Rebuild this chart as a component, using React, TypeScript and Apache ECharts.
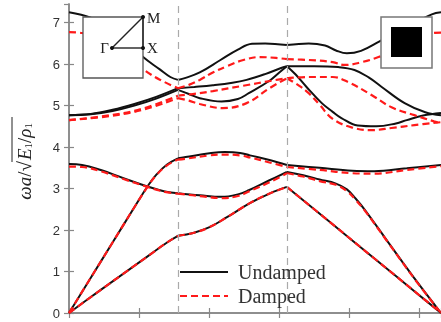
import React, { useEffect, useRef } from "react";
import * as echarts from "echarts";

// Path: Γ (0) → X (1) → M (2) → Γ (1 + 1 + √2)
const K_END = 3.414;
const Y_MAX = 7.45;
const X_TICK_STEP = 0.642;
const Y_TICK_STEP = 1;
const symmetryPoints = [1, 2];
const legendNames = ["Undamped", "Damped"];

// ---- Undamped (black, solid) bands: [k, ωa/√(E1/ρ1)] ----
const undamped1 = [
  [0, 0], [0.25, 0.48], [0.5, 0.95], [0.75, 1.42], [0.9, 1.7], [1, 1.86],
  [1.14, 1.93], [1.29, 2.07], [1.45, 2.31], [1.66, 2.65], [1.84, 2.88], [2, 3.04],
  [2.4, 2.18], [2.8, 1.32], [3.2, 0.46], [3.414, 0],
];
const undamped2 = [
  [0, 0], [0.2, 0.85], [0.4, 1.7], [0.6, 2.55], [0.72, 3.05], [0.8, 3.33], [0.9, 3.58], [1, 3.73],
  [1.07, 3.76], [1.29, 3.85], [1.43, 3.88], [1.57, 3.86], [1.66, 3.8], [1.84, 3.69], [2, 3.57],
  [2.3, 3.5], [2.6, 3.43], [2.8, 3.42], [3.1, 3.49], [3.414, 3.57],
];
const undamped3 = [
  [0, 3.59], [0.12, 3.57], [0.3, 3.44], [0.5, 3.25], [0.72, 3.05], [0.88, 2.93], [1, 2.89],
  [1.2, 2.84], [1.4, 2.8], [1.55, 2.86], [1.65, 2.96], [1.84, 3.2], [2, 3.4],
  [2.15, 3.32], [2.3, 3.22], [2.45, 3.12], [2.55, 2.98], [2.63, 2.76], [2.72, 2.47], [2.92, 1.74], [3.2, 0.73], [3.414, 0],
];
const undamped4 = [
  [0, 4.77], [0.2, 4.79], [0.4, 4.87], [0.6, 5.0], [0.8, 5.17], [1, 5.38],
  [1.1, 5.28], [1.2, 5.18], [1.4, 5.1], [1.55, 5.16], [1.65, 5.3], [1.84, 5.6], [1.93, 5.8], [2, 5.95],
  [2.08, 5.75], [2.18, 5.45], [2.32, 5.06], [2.42, 4.85], [2.5, 4.7], [2.65, 4.52], [2.82, 4.5], [3, 4.57], [3.1, 4.65], [3.25, 4.76], [3.414, 4.82],
];
const undamped5 = [
  [0, 4.77], [0.2, 4.8], [0.4, 4.9], [0.6, 5.04], [0.8, 5.21], [1, 5.42],
  [1.15, 5.45], [1.32, 5.49], [1.5, 5.55], [1.63, 5.62], [1.8, 5.76], [1.94, 5.9], [2, 5.95],
  [2.25, 5.95], [2.47, 5.93], [2.62, 5.86], [2.75, 5.68], [2.87, 5.45], [3.08, 5.06], [3.27, 4.84], [3.414, 4.77],
];
const undamped6 = [
  [0, 7.25], [0.2, 7.12], [0.4, 6.85], [0.55, 6.5], [0.68, 6.17], [0.83, 5.88], [0.93, 5.69], [1, 5.62],
  [1.07, 5.67], [1.2, 5.8], [1.39, 6.1], [1.55, 6.35], [1.68, 6.49], [1.8, 6.5], [2, 6.46],
  [2.2, 6.5], [2.35, 6.45], [2.45, 6.33], [2.55, 6.26], [2.68, 6.32], [2.85, 6.55], [3.1, 6.9], [3.33, 7.2], [3.414, 7.25],
];

// ---- Damped (red, dashed) bands ----
const damped1 = [
  [0, 0], [0.25, 0.48], [0.5, 0.95], [0.75, 1.42], [0.9, 1.7], [1, 1.86],
  [1.14, 1.93], [1.29, 2.07], [1.45, 2.31], [1.66, 2.65], [1.84, 2.88], [2, 3.04],
  [2.4, 2.18], [2.8, 1.32], [3.2, 0.46], [3.414, 0],
];
const damped2 = [
  [0, 0], [0.2, 0.85], [0.4, 1.7], [0.6, 2.55], [0.72, 3.04], [0.8, 3.32], [0.9, 3.56], [1, 3.7],
  [1.07, 3.72], [1.29, 3.8], [1.43, 3.82], [1.57, 3.8], [1.66, 3.75], [1.84, 3.63], [2, 3.52],
  [2.3, 3.45], [2.6, 3.37], [2.8, 3.36], [3.1, 3.45], [3.414, 3.54],
];
const damped3 = [
  [0, 3.53], [0.12, 3.52], [0.3, 3.41], [0.5, 3.23], [0.72, 3.04], [0.88, 2.92], [1, 2.88],
  [1.2, 2.82], [1.4, 2.77], [1.55, 2.82], [1.65, 2.93], [1.84, 3.15], [2, 3.37],
  [2.15, 3.29], [2.3, 3.18], [2.45, 3.09], [2.55, 2.94], [2.63, 2.73], [2.72, 2.45], [2.92, 1.73], [3.2, 0.72], [3.414, 0],
];
const damped4 = [
  [0, 4.65], [0.38, 4.75], [0.68, 4.9], [1, 5.18],
  [1.1, 5.12], [1.2, 5.04], [1.41, 4.94], [1.63, 5.06], [1.84, 5.42], [2, 5.66],
  [2.1, 5.5], [2.2, 5.3], [2.3, 5.02], [2.42, 4.68], [2.6, 4.47], [2.78, 4.41], [2.96, 4.46], [3.17, 4.53], [3.414, 4.6],
];
const damped5 = [
  [0, 4.65], [0.38, 4.77], [0.68, 4.93], [1, 5.24],
  [1.2, 5.3], [1.32, 5.35], [1.6, 5.48], [1.88, 5.61], [2, 5.66],
  [2.2, 5.69], [2.42, 5.69], [2.56, 5.57], [2.78, 5.25], [2.96, 4.96], [3.17, 4.77], [3.35, 4.62], [3.414, 4.58],
];
const damped6 = [
  [0, 6.77], [0.12, 6.75], [0.3, 6.58], [0.5, 6.25], [0.7, 5.84], [0.83, 5.63], [1, 5.42],
  [1.1, 5.5], [1.2, 5.62], [1.32, 5.8], [1.45, 5.95], [1.6, 6.1], [1.75, 6.17], [1.9, 6.15], [2, 6.12],
  [2.2, 6.1], [2.42, 6.05], [2.53, 5.98], [2.69, 6.05], [2.84, 6.17], [3.1, 6.45], [3.34, 6.75], [3.414, 6.76],
];

const undampedBands = [undamped1, undamped2, undamped3, undamped4, undamped5, undamped6];
const dampedBands = [damped1, damped2, damped3, damped4, damped5, damped6];

const BLACK = "#111";
const RED = "#ff1a1a";
const RED_DASH = [7, 4];

function splitSegments(points: number[][]) {
  const segs: number[][][] = [[], [], []];
  for (const p of points) {
    if (p[0] <= 1) segs[0].push(p);
    if (p[0] >= 1 && p[0] <= 2) segs[1].push(p);
    if (p[0] >= 2) segs[2].push(p);
  }
  return segs;
}

export default function App() {
  const ref = useRef<HTMLDivElement>(null);
  useEffect(() => {
    if (!ref.current) return;
    const chart = echarts.init(ref.current, null, { renderer: "svg" });

    const series: any[] = [];
    undampedBands.forEach((band) => {
      splitSegments(band).forEach((seg) => {
        series.push({
          type: "line",
          name: legendNames[0],
          data: seg,
          smooth: 0.4,
          symbol: "none",
          showSymbol: false,
          z: 3,
          lineStyle: { color: BLACK, width: 2 },
          itemStyle: { color: BLACK },
        });
      });
    });
    dampedBands.forEach((band) => {
      splitSegments(band).forEach((seg) => {
        series.push({
          type: "line",
          name: legendNames[1],
          data: seg,
          smooth: 0.4,
          symbol: "none",
          showSymbol: false,
          z: 4,
          lineStyle: { color: RED, width: 2.2, type: RED_DASH },
          itemStyle: { color: RED },
        });
      });
    });
    series[0].markLine = {
      silent: true,
      symbol: ["none", "none"],
      label: { show: false },
      lineStyle: { color: "#aaa", type: [7, 5], width: 1.2 },
      data: symmetryPoints.map((k) => ({ xAxis: k })),
    };

    const axisLine = { show: true, lineStyle: { color: "#888", width: 1.5 } };
    const axisTick = { show: true, inside: true, length: 5, lineStyle: { color: "#888", width: 1.2 } };
    const serif = '"Liberation Serif", "Times New Roman", serif';
    const Z = 100;

    chart.setOption({
      animation: false,
      grid: { left: 69, right: 0, top: 4, bottom: 9, containLabel: false },
      xAxis: [
        {
          type: "value", min: 0, max: K_END, interval: X_TICK_STEP, position: "bottom",
          axisLine, axisTick, axisLabel: { show: false }, splitLine: { show: false },
        },
        {
          type: "value", min: 0, max: K_END, interval: X_TICK_STEP, position: "top",
          axisLine, axisTick, axisLabel: { show: false }, splitLine: { show: false },
        },
      ],
      yAxis: [
        {
          type: "value", min: 0, max: Y_MAX, interval: Y_TICK_STEP, position: "left",
          axisLine, axisTick, splitLine: { show: false },
          axisLabel: {
            show: true, margin: 9, showMaxLabel: false, color: "#333",
            fontFamily: '"Liberation Sans", Arial, sans-serif', fontSize: 13,
          },
        },
        {
          type: "value", min: 0, max: Y_MAX, interval: Y_TICK_STEP, position: "right",
          axisLine, axisTick, axisLabel: { show: false }, splitLine: { show: false },
        },
      ],
      series,
      graphic: [
        // y-axis title
        {
          type: "group", x: 24, y: 157, rotation: Math.PI / 2, z: Z,
          children: [
            {
              type: "text", x: -4, y: 0, z: Z,
              style: {
                text: "{i|ωa}{n|/√}", align: "right", verticalAlign: "middle", fill: "#222",
                rich: {
                  i: { fontFamily: serif, fontStyle: "italic", fontSize: 19, fill: "#222" },
                  n: { fontFamily: serif, fontSize: 19, fill: "#222" },
                },
              },
            },
            {
              type: "text", x: -3, y: 0, z: Z,
              style: {
                text: "{i|E}{s|1}{n|/}{i|ρ}{s|1}", align: "left", verticalAlign: "middle", fill: "#222",
                rich: {
                  i: { fontFamily: serif, fontStyle: "italic", fontSize: 19, fill: "#222" },
                  n: { fontFamily: serif, fontSize: 19, fill: "#222" },
                  s: { fontFamily: serif, fontSize: 11, fill: "#222", padding: [8, 0, 0, 0] },
                },
              },
            },
            { type: "line", z: Z, shape: { x1: -5, y1: -12, x2: 40, y2: -12 }, style: { stroke: "#222", lineWidth: 1 } },
          ],
        },
        // Brillouin zone inset
        { type: "rect", z: Z, shape: { x: 83, y: 17, width: 60, height: 61 }, style: { fill: "#fff", stroke: "#555", lineWidth: 1.3 } },
        { type: "line", z: Z + 1, shape: { x1: 112, y1: 48, x2: 143, y2: 48 }, style: { stroke: "#222", lineWidth: 1.4 } },
        { type: "line", z: Z + 1, shape: { x1: 143, y1: 48, x2: 143, y2: 17 }, style: { stroke: "#222", lineWidth: 1.4 } },
        { type: "line", z: Z + 1, shape: { x1: 112, y1: 48, x2: 143, y2: 17 }, style: { stroke: "#222", lineWidth: 1.4 } },
        { type: "circle", z: Z + 2, shape: { cx: 112, cy: 48, r: 2 }, style: { fill: "#111" } },
        { type: "circle", z: Z + 2, shape: { cx: 143, cy: 48, r: 2 }, style: { fill: "#111" } },
        { type: "circle", z: Z + 2, shape: { cx: 143, cy: 17, r: 2 }, style: { fill: "#111" } },
        { type: "text", z: Z + 2, x: 147, y: 18, style: { text: "M", font: `15px ${serif}`, fill: "#222", verticalAlign: "middle", align: "left" } },
        { type: "text", z: Z + 2, x: 147, y: 48, style: { text: "X", font: `15px ${serif}`, fill: "#222", verticalAlign: "middle", align: "left" } },
        { type: "text", z: Z + 2, x: 109, y: 48, style: { text: "Γ", font: `15px ${serif}`, fill: "#222", verticalAlign: "middle", align: "right" } },
        // unit cell inset
        { type: "rect", z: Z, shape: { x: 381, y: 17, width: 51, height: 51 }, style: { fill: "#fff", stroke: "#777", lineWidth: 1.5 } },
        { type: "rect", z: Z + 1, shape: { x: 391, y: 27, width: 31, height: 30 }, style: { fill: "#000" } },
        // legend
        { type: "line", z: Z, shape: { x1: 180, y1: 272, x2: 228, y2: 272 }, style: { stroke: BLACK, lineWidth: 2.2 } },
        { type: "line", z: Z, shape: { x1: 180, y1: 296, x2: 228, y2: 296 }, style: { stroke: RED, lineWidth: 2.2, lineDash: RED_DASH } },
        { type: "text", z: Z, x: 238, y: 272, style: { text: legendNames[0], font: `20px ${serif}`, fill: "#333", verticalAlign: "middle", align: "left" } },
        { type: "text", z: Z, x: 238, y: 296, style: { text: legendNames[1], font: `20px ${serif}`, fill: "#333", verticalAlign: "middle", align: "left" } },
      ],
    });
    return () => chart.dispose();
  }, []);
  return <div ref={ref} style={{ position: "fixed", left: 0, top: 0, width: 441, height: 322 }} />;
}
